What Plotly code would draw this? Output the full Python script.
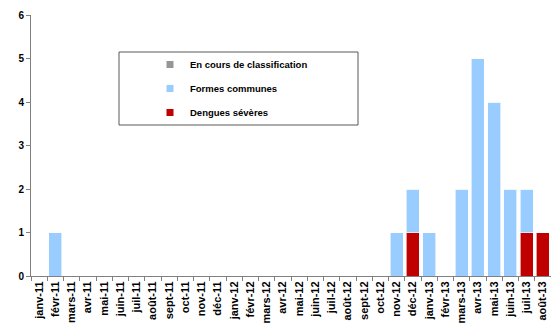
import plotly.graph_objects as go

months = ["janv-11","févr-11","mars-11","avr-11","mai-11","juin-11","juil-11","août-11","sept-11","oct-11","nov-11","déc-11",
          "janv-12","févr-12","mars-12","avr-12","mai-12","juin-12","juil-12","août-12","sept-12","oct-12","nov-12","déc-12",
          "janv-13","févr-13","mars-13","avr-13","mai-13","juin-13","juil-13","août-13"]
severes = [0,0,0,0,0,0,0,0,0,0,0,0, 0,0,0,0,0,0,0,0,0,0,0,1, 0,0,0,0,0,0,1,1]
communes = [0,1,0,0,0,0,0,0,0,0,0,0, 0,0,0,0,0,0,0,0,0,0,1,1, 1,0,2,5,4,2,1,0]
en_cours = [0]*32

names = ["Dengues sévères", "Formes communes", "En cours de classification"]
colors = ["#C00000", "#99CCFF", "#969696"]
series = [severes, communes, en_cours]

fig = go.Figure()
for nm, col, vals in zip(names, colors, series):
    fig.add_trace(go.Bar(x=months, y=vals, name=nm, marker_color=col,
                         marker_line=dict(color="rgba(255,255,255,0.6)", width=1),
                         showlegend=False))
# legend entries (small square markers), top to bottom
for nm, col in zip(names[::-1], colors[::-1]):
    fig.add_trace(go.Scatter(x=[None], y=[None], mode="markers", name=nm, legendgroup=nm,
                             marker=dict(symbol="square", size=7, color=col)))

fig.update_layout(
    barmode="stack", bargap=0.2,
    width=551, height=323,
    margin=dict(l=31, r=0, t=15, b=47),
    paper_bgcolor="white", plot_bgcolor="white",
    font=dict(family="Liberation Sans, Arial", size=9, color="black"),
    showlegend=True,
    legend=dict(x=(150-31)/520, y=(276-50)/261, xanchor="left", yanchor="top",
                traceorder="grouped", tracegroupgap=5,
                bgcolor="rgba(0,0,0,0)", font=dict(size=9.5, weight="bold"),
                itemwidth=30),
    shapes=[dict(type="rect", xref="paper", yref="paper",
                 x0=(119-31)/520, x1=(358-31)/520, y0=(276-125)/261, y1=(276-52)/261,
                 line=dict(color="#595959", width=1), fillcolor="rgba(0,0,0,0)")],
)
fig.update_xaxes(type="category", tickangle=-90, automargin=False,
                 showline=True, linecolor="#808080", linewidth=1,
                 ticks="outside", tickson="boundaries", ticklen=4, tickcolor="#808080",
                 tickfont=dict(size=11, weight="bold"), showgrid=False)
fig.update_yaxes(range=[0, 6], dtick=1, automargin=False,
                 showline=True, linecolor="#808080", linewidth=1,
                 ticks="outside", ticklen=4, tickcolor="#808080",
                 tickfont=dict(size=10, weight="bold"), showgrid=False, zeroline=False)

fig.write_html("out.html")
